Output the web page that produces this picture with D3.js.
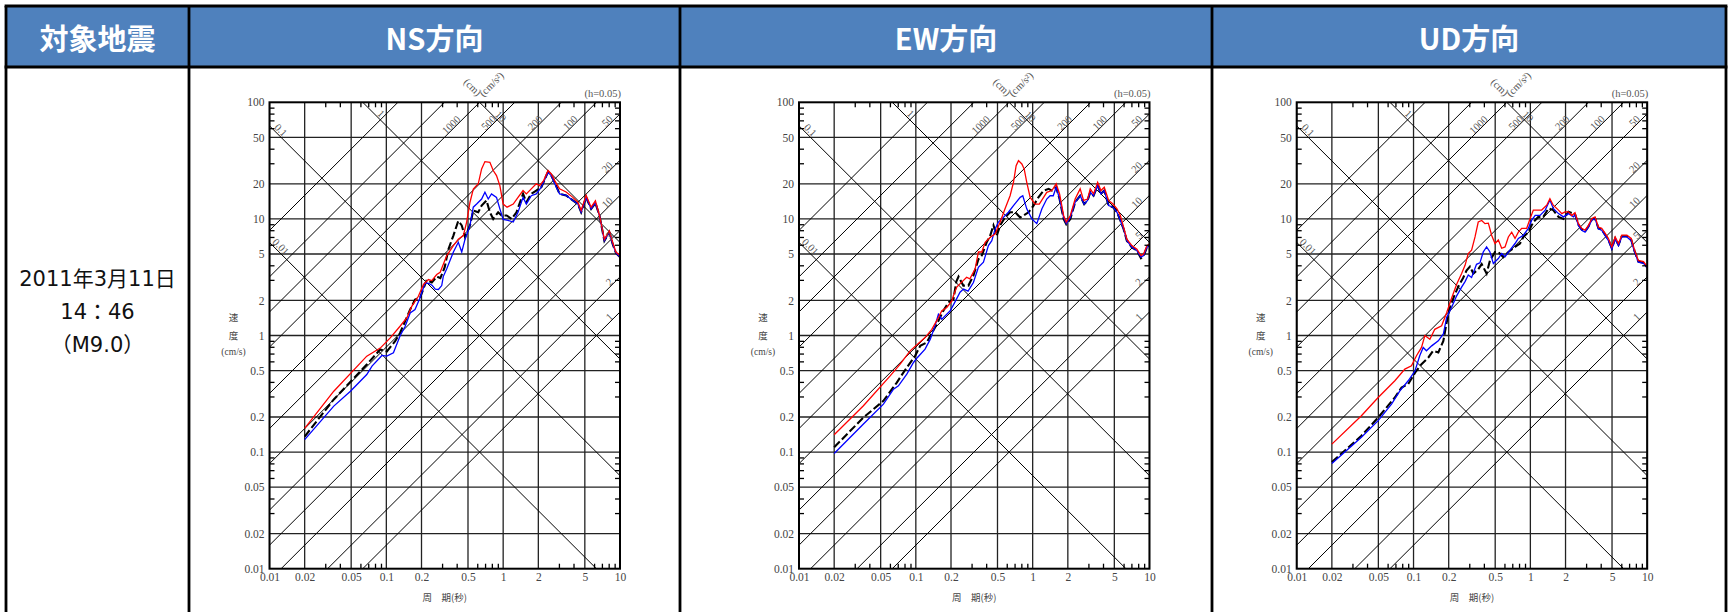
<!DOCTYPE html>
<html>
<head>
<meta charset="utf-8">
<script src="https://cdn.jsdelivr.net/npm/d3@7"></script>
<style>
  body { margin: 0; background: #fff; }
</style>
</head>
<body>
<svg id="chart" width="1729" height="612"></svg>
<script>
// table text
const headers = ["対象地震", "NS方向", "EW方向", "UD方向"];
const eventLines = ["2011年3月11日", "14：46", "（M9.0）"];

// axis ticks
const periodTicks = [0.01, 0.02, 0.05, 0.1, 0.2, 0.5, 1, 2, 5, 10];
const velocityTicks = [100, 50, 20, 10, 5, 2, 1, 0.5, 0.2, 0.1, 0.05, 0.02, 0.01];
const minorSteps = [3, 4, 6, 7, 8, 9];

// tripartite guide lines (displacement in cm, acceleration in cm/s2)
const dispLines = [0.01, 0.1, 1, 10];
const accLines = [1, 2, 5, 10, 20, 50, 100, 200, 500, 1000, 2000, 5000];
const accLabels = [1, 2, 5, 10, 20, 50, 100, 200, 500, 1000];

// [period (s), velocity (cm/s)]
const nsBlack = [[0.02,0.136],[0.0355,0.283],[0.068,0.564],[0.0887,0.759],[0.101,0.73],[0.119,0.894],[0.131,1.05],[0.16,1.67],[0.176,2.03],[0.194,2.1],[0.222,3.0],[0.245,2.85],[0.27,3.2],[0.29,3.1],[0.316,3.85],[0.34,5.5],[0.375,7.2],[0.413,9.6],[0.442,8.8],[0.472,6.96],[0.52,8.8],[0.555,11.8],[0.612,11.4],[0.654,13],[0.72,14.4],[0.77,11.4],[0.822,10],[0.906,11.4],[0.968,10.7],[1.07,10.7],[1.18,10],[1.3,11.4],[1.48,16.4],[1.58,13.9],[1.74,16.4],[1.92,17.5],[2.12,18.7],[2.42,25.3],[2.58,23.5],[2.76,20.6],[3.04,16.4],[3.46,15.9],[3.95,14.4],[4.36,13.4],[4.65,11.4],[5.13,15.3],[5.66,12.2],[6.16,13.7],[6.67,10.7],[7.35,6.5],[8.1,7.7],[8.65,6.1],[9.23,5.1],[10,4.7]];
const nsBlue = [[0.02,0.128],[0.0355,0.248],[0.0493,0.333],[0.068,0.463],[0.0754,0.546],[0.0917,0.674],[0.1009,0.665],[0.115,0.71],[0.131,0.99],[0.145,1.2],[0.16,1.56],[0.176,1.67],[0.194,2.1],[0.215,2.83],[0.23,2.8],[0.246,2.7],[0.262,2.5],[0.279,2.48],[0.298,2.68],[0.307,3.2],[0.329,3.73],[0.375,5.2],[0.413,6.3],[0.442,5.2],[0.472,6.7],[0.52,8.8],[0.555,12.6],[0.593,13.4],[0.654,14.8],[0.698,16.9],[0.745,14.8],[0.795,16.4],[0.877,15.3],[0.937,12.2],[1.0,9.9],[1.1,9.7],[1.22,9.4],[1.34,11.4],[1.48,15.3],[1.58,13.4],[1.74,15.8],[1.92,16.4],[2.12,18.7],[2.42,25],[2.58,23.5],[2.76,20],[3.04,16.4],[3.46,15.9],[3.95,14.4],[4.36,13.4],[4.65,11.4],[5.13,15.3],[5.66,12.2],[6.16,13.7],[6.67,10.7],[7.35,6.5],[8.1,7.7],[8.65,6.1],[9.23,5.1],[10,4.7]];
const nsRed = [[0.02,0.16],[0.0355,0.333],[0.068,0.665],[0.0887,0.78],[0.108,0.955],[0.131,1.2],[0.15,1.42],[0.165,1.78],[0.188,2.17],[0.208,2.74],[0.229,3.02],[0.245,2.96],[0.27,3.33],[0.289,3.49],[0.329,4.85],[0.375,5.9],[0.413,6.7],[0.456,7.2],[0.487,9.4],[0.52,13.9],[0.555,18],[0.612,20],[0.654,26.8],[0.698,31],[0.77,30.6],[0.822,26],[0.877,23.5],[0.937,19.3],[1.0,13.4],[1.08,12.6],[1.22,13.4],[1.34,15.3],[1.48,17.5],[1.58,16.4],[1.74,18.1],[1.92,20],[2.05,19.3],[2.22,21.3],[2.42,26],[2.58,24.3],[2.76,21.3],[3.04,18.1],[3.46,17],[3.95,15.3],[4.36,13.9],[4.65,11.8],[5.13,15.9],[5.66,12.6],[6.16,14.3],[6.67,10.7],[7.35,6.7],[8.1,7.9],[8.65,6.3],[9.23,5.2],[10,4.85]];

const ewBlack = [[0.02,0.11],[0.0356,0.198],[0.0528,0.275],[0.0687,0.395],[0.0837,0.532],[0.0987,0.67],[0.109,0.815],[0.124,0.87],[0.151,1.25],[0.172,1.63],[0.19,1.92],[0.21,2.05],[0.222,2.9],[0.232,3.2],[0.255,2.68],[0.282,2.68],[0.311,3.27],[0.343,4.5],[0.367,4.85],[0.404,6.3],[0.433,7.2],[0.462,8.8],[0.493,7.2],[0.527,8.8],[0.58,10.3],[0.641,11.4],[0.708,11.4],[0.782,10.3],[0.835,10.7],[0.921,11.4],[1.017,13.0],[1.12,15.3],[1.24,17.5],[1.37,18.1],[1.46,17.5],[1.59,18.7],[1.7,14.8],[1.84,10.0],[1.94,9.0],[2.1,10.0],[2.31,13.9],[2.55,15.8],[2.76,13.4],[2.95,14.4],[3.11,16.9],[3.32,15.8],[3.6,19.3],[3.84,16.4],[4.1,17.5],[4.47,13.0],[4.87,12.6],[5.27,11.4],[5.63,9.7],[6.0,8.2],[6.4,6.5],[7.07,5.7],[7.8,5.35],[8.45,4.6],[8.9,4.8],[9.5,5.7],[10,5.9]];
const ewBlue = [[0.02,0.0974],[0.0356,0.174],[0.0528,0.258],[0.0644,0.347],[0.071,0.37],[0.0837,0.466],[0.0955,0.587],[0.1033,0.648],[0.12,0.764],[0.133,0.93],[0.146,1.21],[0.156,1.52],[0.167,1.38],[0.184,1.52],[0.197,1.63],[0.217,1.95],[0.239,2.35],[0.256,2.5],[0.28,2.4],[0.311,2.85],[0.343,3.85],[0.379,4.25],[0.418,5.9],[0.447,6.5],[0.477,8.2],[0.509,9.4],[0.562,10.3],[0.62,11.4],[0.685,13.0],[0.782,15.3],[0.823,15.8],[0.89,12.2],[0.984,10],[1.085,9.1],[1.2,12.2],[1.32,14.8],[1.41,15.8],[1.5,15.8],[1.59,18.7],[1.7,14.8],[1.84,10.3],[1.94,9.1],[2.1,10.3],[2.31,13.9],[2.55,15.8],[2.76,13.4],[2.95,14.4],[3.11,16.9],[3.32,15.8],[3.6,19.3],[3.84,16.4],[4.1,17.5],[4.47,13.0],[4.87,12.6],[5.27,11.4],[5.63,9.7],[6.0,8.2],[6.4,6.5],[7.07,5.7],[7.8,5.35],[8.45,4.7],[8.9,4.85],[9.5,5.7],[10,5.9]];
const ewRed = [[0.02,0.141],[0.0356,0.25],[0.0603,0.451],[0.0734,0.568],[0.0894,0.739],[0.1033,0.843],[0.12,0.96],[0.137,1.13],[0.151,1.34],[0.167,1.63],[0.184,1.74],[0.2035,1.98],[0.21,2.2],[0.224,2.6],[0.247,2.87],[0.272,3.16],[0.29,3.06],[0.322,3.73],[0.343,5.2],[0.367,5.2],[0.392,6.3],[0.433,6.96],[0.477,7.4],[0.527,9.4],[0.58,12.2],[0.641,15.8],[0.685,20.6],[0.722,28.6],[0.756,31.6],[0.808,29.6],[0.846,26.8],[0.89,20.6],[0.952,15.3],[1.05,13.4],[1.14,13.4],[1.24,15.3],[1.32,16.9],[1.46,17.5],[1.59,20],[1.7,16.4],[1.84,10.7],[1.94,9.4],[2.1,10.7],[2.31,14.8],[2.55,18.1],[2.73,14.4],[2.95,14.8],[3.11,18.1],[3.32,16.4],[3.6,20.6],[3.84,17.5],[4.1,18.7],[4.47,14.4],[4.87,13.4],[5.27,12.2],[5.63,10.7],[6.0,8.5],[6.4,6.7],[7.07,5.9],[7.8,5.5],[8.45,4.85],[8.9,5.0],[9.5,5.9],[10,6.1]];

const udBlack = [[0.02,0.082],[0.0358,0.138],[0.0498,0.198],[0.0692,0.294],[0.079,0.358],[0.09,0.383],[0.103,0.48],[0.117,0.568],[0.134,0.648],[0.147,0.739],[0.163,0.715],[0.18,0.9],[0.192,1.29],[0.205,1.74],[0.226,2.26],[0.245,2.7],[0.265,3.1],[0.284,3.6],[0.304,3.9],[0.325,3.4],[0.358,3.7],[0.383,4.1],[0.422,3.4],[0.451,4.4],[0.498,5.2],[0.532,5.2],[0.587,4.7],[0.648,5.2],[0.739,5.75],[0.815,6.15],[0.871,7.0],[0.961,7.7],[1.06,9.4],[1.17,10.4],[1.29,10.4],[1.43,12.3],[1.57,11.9],[1.74,10.4],[1.92,10],[2.12,11.5],[2.34,11.1],[2.41,11.0],[2.58,8.9],[2.75,8.1],[2.94,7.8],[3.14,8.6],[3.36,9.9],[3.58,10.1],[3.83,8.3],[4.08,8.1],[4.37,7.3],[4.66,6.6],[4.98,5.6],[5.32,6.8],[5.68,6.0],[6.06,7.1],[6.7,7.1],[7.3,6.6],[7.8,5.3],[8.4,4.3],[9.3,4.2],[10,3.85]];
const udBlue = [[0.02,0.08],[0.0358,0.134],[0.0498,0.186],[0.0648,0.258],[0.0764,0.335],[0.09,0.409],[0.103,0.498],[0.113,0.67],[0.121,0.79],[0.129,0.74],[0.143,0.815],[0.163,0.9],[0.18,1.03],[0.192,1.43],[0.212,1.75],[0.234,2.19],[0.258,2.6],[0.276,2.9],[0.294,3.3],[0.314,3.14],[0.346,4.08],[0.37,4.2],[0.395,5.2],[0.422,5.75],[0.451,5.2],[0.482,4.14],[0.532,4.57],[0.568,5.05],[0.607,4.73],[0.669,5.4],[0.739,6.15],[0.789,6.8],[0.871,7.25],[0.961,8.3],[1.027,9.75],[1.1,10.7],[1.21,10.7],[1.34,11.9],[1.47,14.5],[1.57,12.3],[1.74,11.1],[1.92,10.4],[2.12,11.1],[2.34,10.4],[2.41,10.9],[2.58,8.8],[2.75,8.0],[2.94,7.7],[3.14,8.5],[3.36,9.8],[3.58,10.0],[3.83,8.2],[4.08,8.0],[4.37,7.2],[4.66,6.5],[4.98,5.5],[5.32,6.7],[5.68,5.9],[6.06,7.0],[6.7,7.0],[7.3,6.5],[7.8,5.2],[8.4,4.25],[9.3,4.15],[10,3.8]];
const udRed = [[0.02,0.117],[0.0358,0.205],[0.0498,0.294],[0.0692,0.409],[0.0843,0.515],[0.096,0.55],[0.106,0.67],[0.117,0.79],[0.125,1.0],[0.138,0.93],[0.152,1.13],[0.174,1.21],[0.192,1.57],[0.212,2.1],[0.234,2.75],[0.258,3.4],[0.276,4.0],[0.294,5.05],[0.314,5.4],[0.336,7.0],[0.358,9.4],[0.383,9.7],[0.409,9.1],[0.437,9.2],[0.466,7.25],[0.498,6.15],[0.532,6.6],[0.568,5.6],[0.607,5.75],[0.648,7.0],[0.692,7.7],[0.739,6.8],[0.789,7.7],[0.843,8.3],[0.93,8.3],[0.993,10],[1.06,11.9],[1.13,11.9],[1.25,11.9],[1.38,13.1],[1.47,14.9],[1.57,13.1],[1.74,11.9],[1.86,11.1],[1.98,11.5],[2.12,11.5],[2.26,10.7],[2.41,11.3],[2.58,9.1],[2.75,8.3],[2.94,8.0],[3.14,8.8],[3.36,10.1],[3.58,10.4],[3.83,8.5],[4.08,8.3],[4.37,7.5],[4.66,6.8],[4.98,5.75],[5.32,7.0],[5.68,6.15],[6.06,7.25],[6.7,7.25],[7.3,6.8],[7.8,5.4],[8.4,4.4],[9.3,4.3],[10,3.9]];

const svg = d3.select("#chart");

// ---- table frame ----
const colX = [6, 189, 680, 1212, 1726];
const tableTop = 6, headBottom = 67;

svg.append("rect")
  .attr("x", colX[0]).attr("y", tableTop)
  .attr("width", colX[4] - colX[0]).attr("height", headBottom - tableTop)
  .attr("fill", "#4f81bd");

headers.forEach((h, i) => {
  svg.append("text")
    .attr("x", (colX[i] + colX[i + 1]) / 2)
    .attr("y", 37)
    .attr("text-anchor", "middle")
    .attr("dominant-baseline", "central")
    .style("font-family", "'Noto Sans CJK JP', sans-serif")
    .style("font-weight", "bold")
    .style("font-size", "29px")
    .style("fill", "#fff")
    .text(h);
});

eventLines.forEach((t, i) => {
  svg.append("text")
    .attr("x", (colX[0] + colX[1]) / 2)
    .attr("y", 279 + i * 33)
    .attr("text-anchor", "middle")
    .attr("dominant-baseline", "central")
    .style("font-family", "'DejaVu Sans', 'Noto Sans CJK JP', sans-serif")
    .style("font-size", "21px")
    .style("fill", "#111")
    .text(t);
});

const border = svg.append("g").attr("stroke", "#000").attr("stroke-width", 2.8);
colX.forEach(cx => border.append("line").attr("x1", cx).attr("x2", cx).attr("y1", tableTop).attr("y2", 612));
[tableTop, headBottom].forEach(yy => border.append("line").attr("x1", colX[0] - 1.4).attr("x2", colX[4] + 1.4).attr("y1", yy).attr("y2", yy));

// ---- spectra panels ----
const plotTop = 102.3, plotW = 350.5, plotH = 466.4;
const panels = [
  { left: 269.5, black: nsBlack, blue: nsBlue, red: nsRed },
  { left: 799, black: ewBlack, blue: ewBlue, red: ewRed },
  { left: 1296.7, black: udBlack, blue: udBlue, red: udRed }
];

const labelFont = "'Liberation Serif', 'DejaVu Serif', serif";
const jpFont = "'Noto Sans CJK JP', sans-serif";
const R2 = Math.SQRT1_2;

panels.forEach((p, i) => {
  const g = svg.append("g").attr("transform", `translate(${p.left},${plotTop})`);
  const x = d3.scaleLog().domain([0.01, 10]).range([0, plotW]);
  const y = d3.scaleLog().domain([0.01, 100]).range([plotH, 0]);

  const clipId = "clip" + i;
  g.append("clipPath").attr("id", clipId)
    .append("rect").attr("width", plotW).attr("height", plotH);
  const inner = g.append("g").attr("clip-path", `url(#${clipId})`);

  // grid
  inner.selectAll(".vgrid").data(periodTicks).join("line")
    .attr("x1", d => x(d)).attr("x2", d => x(d))
    .attr("y1", 0).attr("y2", plotH)
    .attr("stroke", "#222").attr("stroke-width", 1.3);
  inner.selectAll(".hgrid").data(velocityTicks).join("line")
    .attr("x1", 0).attr("x2", plotW)
    .attr("y1", d => y(d)).attr("y2", d => y(d))
    .attr("stroke", "#222").attr("stroke-width", 1.3);

  // displacement lines: Sv = 2*pi*D/T
  inner.selectAll(".dline").data(dispLines).join("line")
    .attr("x1", x(0.01)).attr("y1", d => y(2 * Math.PI * d / 0.01))
    .attr("x2", x(10)).attr("y2", d => y(2 * Math.PI * d / 10))
    .attr("stroke", "#000").attr("stroke-width", 1);
  // acceleration lines: Sv = A*T/(2*pi)
  inner.selectAll(".aline").data(accLines).join("line")
    .attr("x1", x(0.01)).attr("y1", d => y(d * 0.01 / (2 * Math.PI)))
    .attr("x2", x(10)).attr("y2", d => y(d * 10 / (2 * Math.PI)))
    .attr("stroke", "#000").attr("stroke-width", 1);

  // spectra
  const line = d3.line().x(d => x(d[0])).y(d => y(d[1]));
  inner.append("path").datum(p.black).attr("d", line)
    .attr("fill", "none").attr("stroke", "#000").attr("stroke-width", 2.1)
    .attr("stroke-dasharray", "8,3");
  inner.append("path").datum(p.blue).attr("d", line)
    .attr("fill", "none").attr("stroke", "#0000ff").attr("stroke-width", 1.3);
  inner.append("path").datum(p.red).attr("d", line)
    .attr("fill", "none").attr("stroke", "#ff0000").attr("stroke-width", 1.3);

  // guide line labels
  accLabels.forEach(a => {
    const tTop = 2 * Math.PI * 100 / a;
    const s = String(a);
    let ex, ey, along;
    if (tTop <= 10) { ex = x(tTop); ey = 0; along = 24 + 3 * s.length; }
    else { ex = plotW; ey = y(a * 10 / (2 * Math.PI)); along = 8 + 3 * s.length; }
    const cx = ex - along * R2 - 4 * R2, cy = ey + along * R2 - 4 * R2;
    g.append("text")
      .attr("transform", `translate(${cx},${cy}) rotate(-45)`)
      .attr("text-anchor", "middle").attr("dominant-baseline", "central")
      .style("font-family", labelFont).style("font-size", "10.5px").style("fill", "#555")
      .text(s);
  });
  dispLines.forEach(dv => {
    const svLeft = 2 * Math.PI * dv / 0.01;
    const s = String(dv);
    let ex, ey, along;
    if (svLeft <= 100) { ex = 0; ey = y(svLeft); along = 11; }
    else { ex = x(2 * Math.PI * dv / 100); ey = 0; along = 17 + 4 * s.length; }
    const cx = ex + along * R2 + 5 * R2, cy = ey + along * R2 - 5 * R2;
    g.append("text")
      .attr("transform", `translate(${cx},${cy}) rotate(45)`)
      .attr("text-anchor", "middle").attr("dominant-baseline", "central")
      .style("font-family", labelFont).style("font-size", "10.5px").style("fill", "#555")
      .text(s);
  });

  // unit labels above the frame
  g.append("text")
    .attr("transform", "translate(203,-15) rotate(45)")
    .attr("text-anchor", "middle").attr("dominant-baseline", "central")
    .style("font-family", labelFont).style("font-size", "10.5px").style("fill", "#555")
    .text("(cm)");
  g.append("text")
    .attr("transform", "translate(222,-18) rotate(-45)")
    .attr("text-anchor", "middle").attr("dominant-baseline", "central")
    .style("font-family", labelFont).style("font-size", "10.5px").style("fill", "#555")
    .text("(cm/s²)");
  g.append("text")
    .attr("x", plotW + 1).attr("y", -5)
    .attr("text-anchor", "end")
    .style("font-family", labelFont).style("font-size", "10.5px").style("fill", "#555")
    .text("(h=0.05)");

  // minor ticks (inward) on all four sides
  const minorX = [0.01, 0.1, 1].flatMap(dec => minorSteps.map(m => m * dec));
  const minorY = [0.01, 0.1, 1, 10].flatMap(dec => minorSteps.map(m => m * dec));
  const styleTicks = sel => {
    sel.select(".domain").remove();
    sel.selectAll("line").attr("stroke", "#000").attr("stroke-width", 1.3);
  };
  g.append("g").call(d3.axisLeft(y).tickValues(minorY).tickSize(-5).tickFormat("")).call(styleTicks);
  g.append("g").attr("transform", `translate(${plotW},0)`)
    .call(d3.axisRight(y).tickValues(minorY).tickSize(-5).tickFormat("")).call(styleTicks);
  g.append("g").call(d3.axisTop(x).tickValues(minorX).tickSize(-5).tickFormat("")).call(styleTicks);
  g.append("g").attr("transform", `translate(0,${plotH})`)
    .call(d3.axisBottom(x).tickValues(minorX).tickSize(-5).tickFormat("")).call(styleTicks);

  // frame
  g.append("rect").attr("width", plotW).attr("height", plotH)
    .attr("fill", "none").attr("stroke", "#000").attr("stroke-width", 2);

  // tick labels
  const styleLabels = sel => {
    sel.select(".domain").remove();
    sel.selectAll("line").remove();
    sel.selectAll("text").style("font-family", labelFont).style("font-size", "11.5px").style("fill", "#444");
  };
  g.append("g").call(d3.axisLeft(y).tickValues(velocityTicks).tickSize(0).tickPadding(5).tickFormat(d => String(d)))
    .call(styleLabels);
  g.append("g").attr("transform", `translate(0,${plotH})`)
    .call(d3.axisBottom(x).tickValues(periodTicks).tickSize(0).tickPadding(4).tickFormat(d => String(d)))
    .call(styleLabels);

  // axis titles
  g.append("text")
    .attr("x", plotW / 2).attr("y", plotH + 28)
    .attr("text-anchor", "middle").attr("dominant-baseline", "central")
    .style("font-family", jpFont).style("font-size", "9.5px").style("fill", "#444")
    .text("周　期(秒)");
  ["速", "度", "(cm/s)"].forEach((t, k) => {
    g.append("text")
      .attr("x", -36).attr("y", plotH / 2 - 18 + k * 17.5)
      .attr("text-anchor", "middle").attr("dominant-baseline", "central")
      .style("font-family", k < 2 ? jpFont : labelFont).style("font-size", "9.5px").style("fill", "#444")
      .text(t);
  });
});
</script>
</body>
</html>
